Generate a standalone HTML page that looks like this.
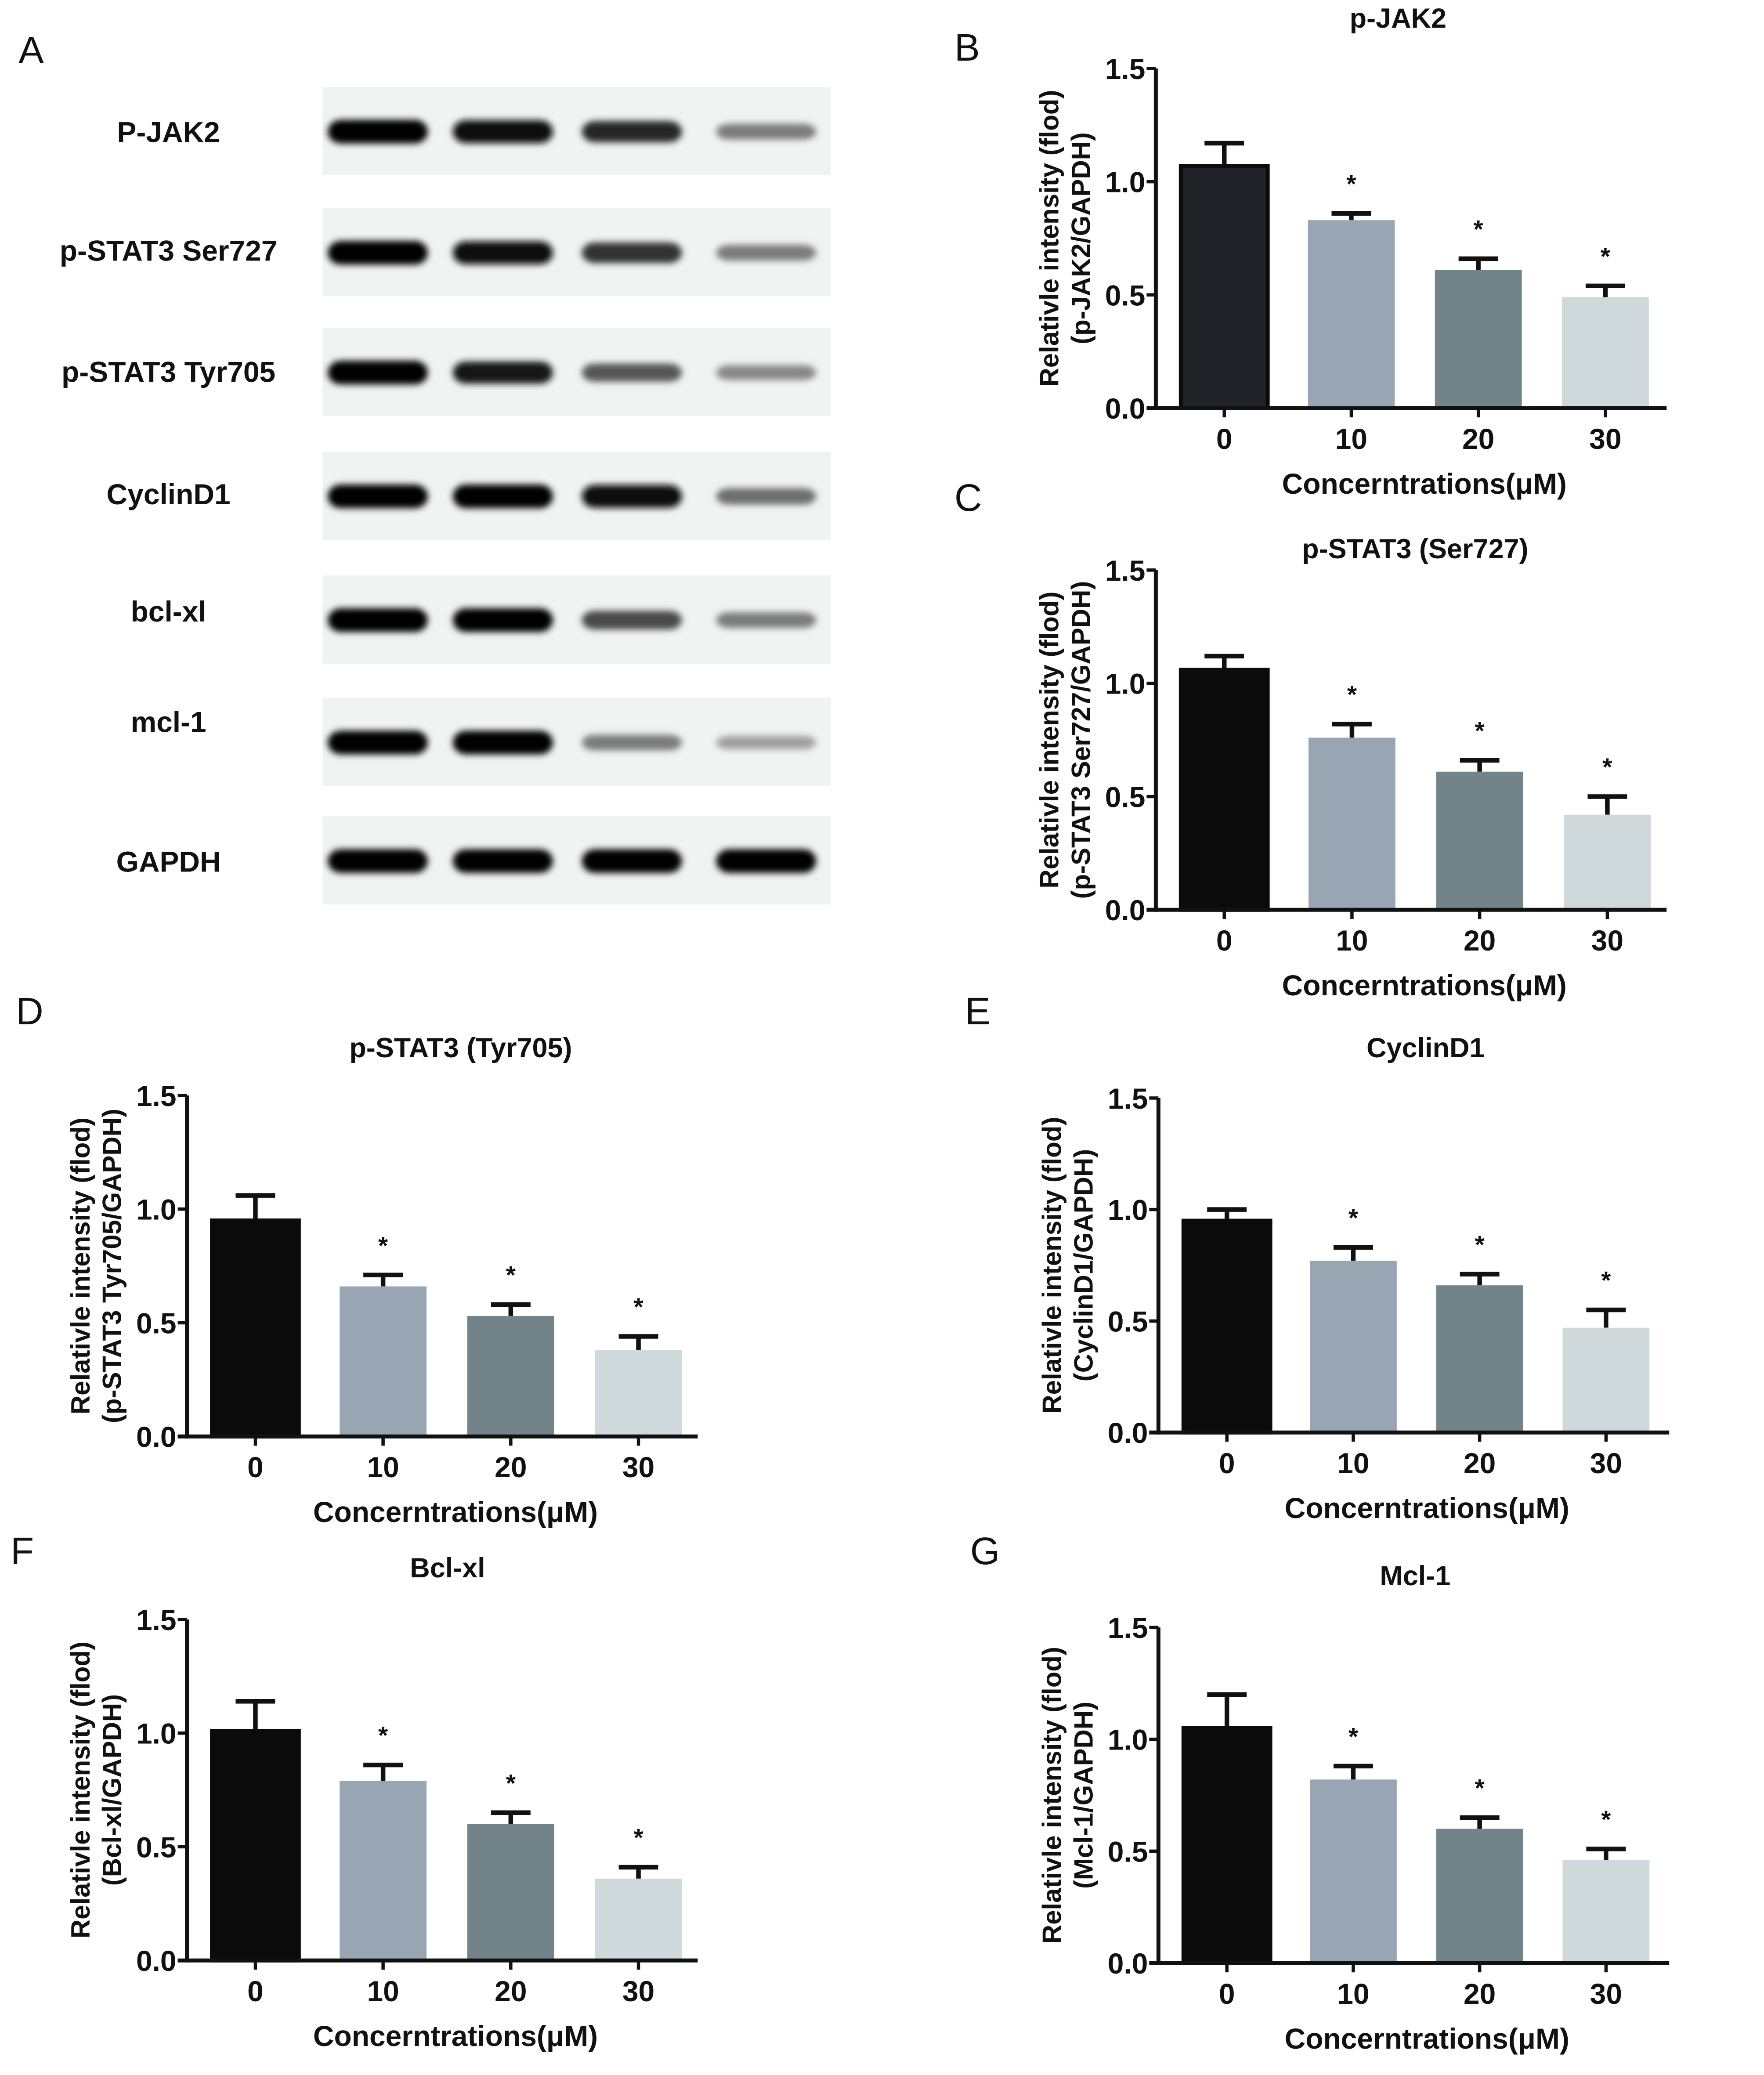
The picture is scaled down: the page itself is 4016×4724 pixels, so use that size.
<!DOCTYPE html>
<html><head><meta charset="utf-8">
<style>
html,body{margin:0;padding:0;background:#fff;}
svg{display:block;}
.lt{font-family:"Liberation Sans",sans-serif;font-size:29px;fill:#111;}
.tk{font-family:"Liberation Sans Narrow","Liberation Sans",sans-serif;font-weight:bold;font-size:22px;fill:#111;}
.tt{font-family:"Liberation Sans Narrow","Liberation Sans",sans-serif;font-weight:bold;font-size:21px;fill:#111;}
.xt{font-family:"Liberation Sans Narrow","Liberation Sans",sans-serif;font-weight:bold;font-size:22px;fill:#111;}
.yt{font-family:"Liberation Sans",sans-serif;font-weight:bold;font-size:20px;fill:#111;}
.wl{font-family:"Liberation Sans",sans-serif;font-weight:bold;font-size:22px;fill:#111;}
.st{font-family:"Liberation Sans",sans-serif;font-weight:bold;font-size:19px;fill:#111;}
</style></head>
<body>
<svg id="fig" width="4016" height="4724" viewBox="0 0 1340 1576" preserveAspectRatio="none" xmlns="http://www.w3.org/2000/svg">
<defs><filter id="blur" x="-20%" y="-80%" width="140%" height="260%"><feGaussianBlur stdDeviation="2.5"/></filter></defs>
</svg>
<script>
// ---- data ----
const categories = ["0","10","20","30"];
const yTicks = [0.0,0.5,1.0,1.5];
const yTickLabels = ["0.0","0.5","1.0","1.5"];
const jak2Vals = [1.07,0.83,0.61,0.49];
const jak2Err = [0.10,0.03,0.05,0.05];
const ser727Vals = [1.06,0.76,0.61,0.42];
const ser727Err = [0.06,0.06,0.05,0.08];
const tyr705Vals = [0.95,0.66,0.53,0.38];
const tyr705Err = [0.11,0.05,0.05,0.06];
const cyclinVals = [0.95,0.77,0.66,0.47];
const cyclinErr = [0.05,0.06,0.05,0.08];
const bclVals = [1.01,0.79,0.60,0.36];
const bclErr = [0.13,0.07,0.05,0.05];
const mclVals = [1.05,0.82,0.60,0.46];
const mclErr = [0.15,0.06,0.05,0.05];
const sig = [false,true,true,true];
const blotLabels = ["P-JAK2","p-STAT3 Ser727","p-STAT3 Tyr705","CyclinD1","bcl-xl","mcl-1","GAPDH"];
const blotIntensity = [[1.0,0.95,0.85,0.5],[1.0,0.95,0.8,0.5],[1.0,0.9,0.65,0.45],[1.0,1.0,0.95,0.55],[1.0,1.0,0.7,0.5],[1.0,1.0,0.5,0.35],[1.0,1.0,1.0,1.0]];

const NS="http://www.w3.org/2000/svg";
const svg=document.getElementById('fig');
function mk(tag,attrs,parent,text){const e=document.createElementNS(NS,tag);for(const k in attrs)e.setAttribute(k,attrs[k]);if(text!==undefined)e.textContent=text;(parent||svg).appendChild(e);return e;}

// ---- western blot panel A ----
const gA=mk('g',{});


const lA=mk('text',{x:14,y:48,class:'lt'},gA,'A');


const rowTops=[66,158,249,343,437,530,620];
const rowLabelY=[108,198,290,383,472,556,662];
const laneX=[287,382,480,582];
blotLabels.forEach((lab,r)=>{
  const t=mk('text',{x:128,y:rowLabelY[r],'text-anchor':'middle',class:'wl'},gA,lab);
  
  
  const bx=mk('rect',{x:245,y:rowTops[r],width:386,height:67,fill:'#f1f2f2'},gA);
  
  
  blotIntensity[r].forEach((v,i)=>{
    const c=Math.round(245*(1-v));
    const b=mk('rect',{x:laneX[i]-38,y:rowTops[r]+34-(3+6*v),width:76,height:2*(3+6*v),rx:10,fill:`rgb(${c},${c},${c})`,filter:'url(#blur)'},gA);
    
    
  });
});

// ---- bar charts ----
const barFill=['#0b0b0b','#97a6b2','#72838a','#cfd8db'];
function chart(o){
  const g=mk('g',{});
  
  
  const y=v=>o.bot-(o.bot-o.top)*v/1.5;
  const x=i=>o.ax+52+i*o.step;
  const L=mk('text',{x:o.lx,y:o.ly,class:'lt'},g,o.letter);
  
  
  const T=mk('text',{x:o.tx,y:o.ty,'text-anchor':'middle',class:'tt'},g,o.title);
  
  
  o.vals.forEach((v,i)=>{
    const cx=x(i),w=66;
    const eb=mk('path',{d:`M${cx} ${y(v)} V${y(v+o.err[i])} M${cx-15} ${y(v+o.err[i])} H${cx+15}`,stroke:'#111','stroke-width':3.5,fill:'none'},g);
    
    
    const b=mk('rect',{x:cx-w/2,y:y(v),width:w,height:y(0)-y(v),fill:(i===0&&o.id==='b')?'#202328':barFill[i],stroke:i===0?'#0b0b0b':'none','stroke-width':i===0?3:0},g);
    
    
    if(sig[i]){const s=mk('text',{x:cx,y:y(v+o.err[i])-16,'text-anchor':'middle',class:'st'},g,'*');
      
      }
    const tk=mk('line',{x1:cx,x2:cx,y1:o.bot,y2:o.bot+7,stroke:'#111','stroke-width':2.5},g);
    
    
    const tl=mk('text',{x:cx,y:o.bot+31,'text-anchor':'middle',class:'tk'},g,categories[i]);
    
    
  });
  const ya=mk('line',{x1:o.ax,x2:o.ax,y1:o.top,y2:o.bot+1.5,stroke:'#111','stroke-width':3},g);
  
  
  const xa=mk('line',{x1:o.ax-7,x2:o.ax+388,y1:o.bot,y2:o.bot,stroke:'#111','stroke-width':3},g);
  
  
  yTicks.forEach((t,k)=>{
    const l=mk('line',{x1:o.ax-7,x2:o.ax,y1:y(t),y2:y(t),stroke:'#111','stroke-width':2.5},g);
    
    
    const tl=mk('text',{x:o.ax-8,y:y(t)+8,'text-anchor':'end',class:'tk'},g,yTickLabels[k]);
    
    
  });
  const xt=mk('text',{x:o.ax+204,y:o.bot+65,'text-anchor':'middle',class:'xt'},g,'Concerntrations(\u03BCM)');
  
  
  const cy=(o.top+o.bot)/2;
  const yt=mk('text',{transform:`translate(${o.ax-74},${cy}) rotate(-90)`,'text-anchor':'middle',class:'yt'},g);
  
  
  mk('tspan',{x:0,dy:0},yt,'Relativle intensity (flod)');
  mk('tspan',{x:0,dy:24},yt,o.ysub);
}
chart({id:'b',letter:'B',lx:725,ly:46,title:'p-JAK2',tx:1062,ty:21,ax:878,top:52,bot:310,step:96.5,vals:jak2Vals,err:jak2Err,ysub:'(p-JAK2/GAPDH)'});
chart({id:'c',letter:'C',lx:725,ly:388,title:'p-STAT3 (Ser727)',tx:1075,ty:424,ax:878,top:433,bot:691,step:97,vals:ser727Vals,err:ser727Err,ysub:'(p-STAT3 Ser727/GAPDH)'});
chart({id:'d',letter:'D',lx:12,ly:778,title:'p-STAT3 (Tyr705)',tx:350,ty:803,ax:142,top:832,bot:1091,step:97,vals:tyr705Vals,err:tyr705Err,ysub:'(p-STAT3 Tyr705/GAPDH)'});
chart({id:'e',letter:'E',lx:733,ly:778,title:'CyclinD1',tx:1083,ty:803,ax:880,top:834,bot:1088,step:96,vals:cyclinVals,err:cyclinErr,ysub:'(CyclinD1/GAPDH)'});
chart({id:'f',letter:'F',lx:8,ly:1188,title:'Bcl-xl',tx:340,ty:1198,ax:142,top:1230,bot:1489,step:97,vals:bclVals,err:bclErr,ysub:'(Bcl-xl/GAPDH)'});
chart({id:'g',letter:'G',lx:737,ly:1188,title:'Mcl-1',tx:1075,ty:1204,ax:880,top:1236,bot:1491,step:96,vals:mclVals,err:mclErr,ysub:'(Mcl-1/GAPDH)'});
</script>
</body></html>
